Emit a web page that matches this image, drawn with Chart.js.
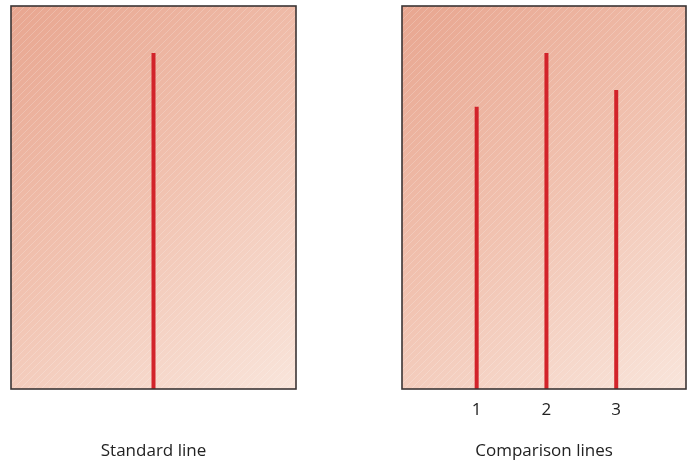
<!DOCTYPE html>
<html>
<head>
<meta charset="utf-8">
<script src="https://cdn.jsdelivr.net/npm/chart.js@4"></script>
<style>
  html, body { margin: 0; padding: 0; background: #ffffff; }
  #wrap { position: relative; width: 689px; height: 462px; }
  .panel { position: absolute; top: 0; height: 462px; }
  #left-panel  { left: 0;   width: 340px; }
  #right-panel { left: 340px; width: 349px; }
</style>
</head>
<body>
<div id="wrap">
  <div class="panel" id="left-panel"><canvas id="standard"></canvas></div>
  <div class="panel" id="right-panel"><canvas id="comparison"></canvas></div>
</div>
<script>
// ---------------------------------------------------------------------------
// Data (line lengths in arbitrary units)
// ---------------------------------------------------------------------------
const standardPositions = [0];
const standardLengths   = [10];
const comparisonPositions = [1, 2, 3];
const comparisonLengths   = [8.4, 10, 8.9];
const comparisonTicks     = ['1', '2', '3'];
const panelTitles = ['Standard line', 'Comparison lines'];
const yMax = 11.4;

const LINE_RED = '#d2232a';
const TEXT = '#222222';
const FONT = "'Open Sans', 'Noto Sans', sans-serif";

// ---------------------------------------------------------------------------
// Plugin: salmon gradient card with faint diagonal hatching + dark frame
// ---------------------------------------------------------------------------
const cardPlugin = {
  id: 'card',
  beforeDatasetsDraw(chart) {
    const { ctx, chartArea: a } = chart;
    ctx.save();
    const g = ctx.createLinearGradient(a.left, a.top, a.right, a.bottom);
    g.addColorStop(0, '#e8a690');
    g.addColorStop(0.5, '#f1c2b0');
    g.addColorStop(1, '#f9e5db');
    ctx.fillStyle = g;
    ctx.fillRect(a.left, a.top, a.right - a.left, a.bottom - a.top);

    ctx.beginPath();
    ctx.rect(a.left, a.top, a.right - a.left, a.bottom - a.top);
    ctx.clip();
    ctx.strokeStyle = 'rgba(255,255,255,0.25)';
    ctx.lineWidth = 0.8;
    const h = a.bottom - a.top;
    for (let x = a.left - h; x < a.right; x += 7) {
      ctx.beginPath();
      ctx.moveTo(x, a.bottom);
      ctx.lineTo(x + h, a.top);
      ctx.stroke();
    }
    ctx.restore();
  },
  afterDatasetsDraw(chart) {
    const { ctx, chartArea: a } = chart;
    ctx.save();
    ctx.strokeStyle = '#3b3535';
    ctx.lineWidth = 1.6;
    ctx.strokeRect(a.left, a.top, a.right - a.left, a.bottom - a.top);
    ctx.restore();
  },
};

function lineDatasets(positions, lengths) {
  return positions.map((x, i) => ({
    data: [{ x, y: 0 }, { x, y: lengths[i] }],
    showLine: true,
    borderColor: LINE_RED,
    borderWidth: 4,
    borderCapStyle: 'butt',
    pointRadius: 0,
  }));
}

function makeChart(id, datasets, xRange, tickLabels, title, padding) {
  return new Chart(document.getElementById(id), {
    type: 'scatter',
    data: { datasets },
    plugins: [cardPlugin],
    options: {
      animation: false,
      responsive: true,
      maintainAspectRatio: false,
      layout: { padding },
      plugins: { legend: { display: false }, tooltip: { enabled: false } },
      scales: {
        y: { display: false, min: 0, max: yMax },
        x: {
          type: 'linear',
          min: xRange[0],
          max: xRange[1],
          border: { display: false },
          grid: { display: false, drawTicks: false },
          afterBuildTicks: s => {
            s.ticks = tickLabels.map((_, i) => ({ value: i + 1 }));
          },
          afterFit: s => { s.height = 462 - 389; },
          ticks: {
            padding: 11,
            maxRotation: 0,
            autoSkip: false,
            color: TEXT,
            font: { family: FONT, size: 17 },
            callback: v => tickLabels[v - 1] ?? '',
          },
          title: {
            display: true,
            text: title,
            color: TEXT,
            font: { family: FONT, size: 17 },
            padding: { top: 0, bottom: 1 },
          },
        },
      },
    },
  });
}

// Standard line panel: chart area x 11..296
makeChart('standard', lineDatasets(standardPositions, standardLengths),
  [-1, 1], [], panelTitles[0], { top: 6, left: 11, right: 44, bottom: 0 });

// Comparison panel: chart area x 402..686 (canvas starts at 340)
makeChart('comparison', lineDatasets(comparisonPositions, comparisonLengths),
  [-0.07, 4.0], comparisonTicks, panelTitles[1], { top: 6, left: 62, right: 3, bottom: 0 });
</script>
</body>
</html>
